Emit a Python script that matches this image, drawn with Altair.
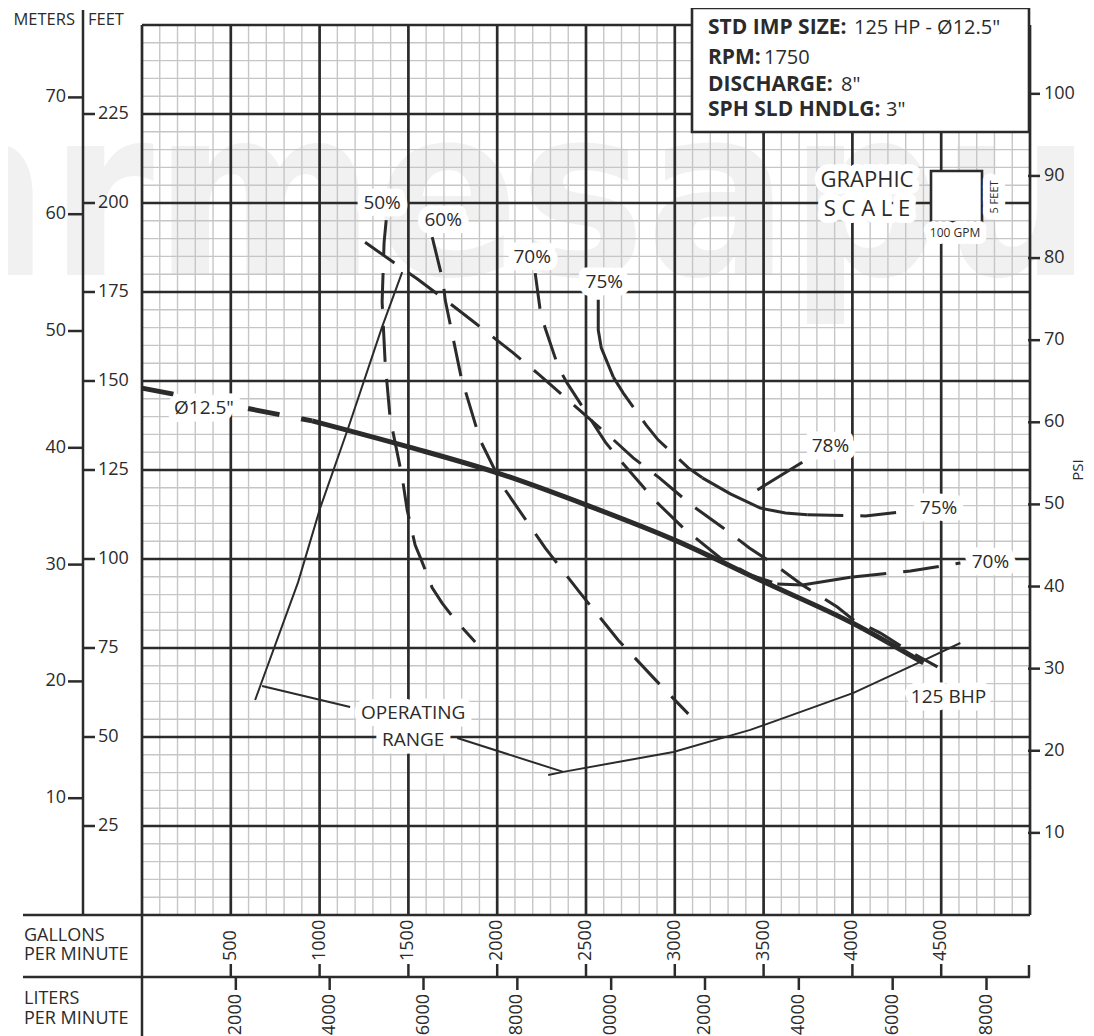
import altair as alt
import pandas as pd

FONT = "Open Sans"
INK = "#2b2b2b"
MINOR = "#c6c6c6"

# ---------------- axis tick values ----------------
GPM_TICKS = [500, 1000, 1500, 2000, 2500, 3000, 3500, 4000, 4500]
LPM_TICKS = [2000, 4000, 6000, 8000, 10000, 12000, 14000, 16000, 18000]
FEET_TICKS = [25, 50, 75, 100, 125, 150, 175, 200, 225]
METER_TICKS = [10, 20, 30, 40, 50, 60, 70]
PSI_TICKS = [10, 20, 30, 40, 50, 60, 70, 80, 90, 100]
MINOR_GPM = list(range(0, 5001, 100))
MINOR_FT = list(range(0, 251, 5))
MAJOR_GPM = list(range(0, 5001, 500))
MAJOR_FT = list(range(0, 251, 25))

GPM_PER_LPM = 1 / 3.78541
FT_PER_M = 3.28084
FT_PER_PSI = 2.30666

# ---------------- curves (GPM, feet) ----------------
HEAD_DASH_GPM = [0, 500, 958]
HEAD_DASH_FT = [148.0, 143.2, 138.8]
HEAD_GPM = [958, 1500, 2000, 2500, 3000, 3500, 4000, 4400]
HEAD_FT = [138.8, 131.5, 124.2, 115.2, 105.3, 93.6, 82.0, 70.8]

EFF50_GPM = [1375, 1363, 1352, 1369, 1397, 1465, 1493, 1538, 1577, 1634, 1690, 1763, 1876]
EFF50_FT = [195.2, 188.8, 172.2, 155.3, 139.6, 123.0, 113.8, 103.9, 99.2, 91.9, 87.6, 82.9, 76.7]

EFF60_GPM = [1634, 1696, 1707, 1797, 1904, 2034, 2270, 2468, 2682, 2907, 3076]
EFF60_FT = [190.4, 177.8, 172.8, 151.1, 133.4, 120.2, 103.1, 90.4, 77.2, 65.2, 56.5]

DIAG_GPM = [1256, 1414, 1549, 1707, 1876, 2085, 2231, 2355, 2496, 2637, 2766, 2913, 3093,
            3273, 3420, 3566, 3718, 3915, 4006, 4158, 4310, 4479]
DIAG_FT = [189.0, 183.4, 178.7, 172.8, 166.3, 158.1, 152.0, 146.6, 140.4, 134.3, 128.4, 122.8,
           115.2, 108.7, 103.1, 98.3, 92.7, 86.5, 82.9, 79.2, 74.4, 69.7]

EFF70A_GPM = [2214, 2242, 2270, 2344, 2394, 2608, 2676, 2823, 2885, 3048, 3132, 3256, 3425, 3577]
EFF70A_FT = [180.3, 169.9, 164.9, 153.9, 149.4, 132.9, 128.7, 120.2, 116.6, 108.7, 105.3, 100.3, 95.5, 93.0]
EFF70B_GPM = [3577, 3718, 3989]
EFF70B_FT = [93.0, 92.7, 94.9]
EFF70C_GPM = [3989, 4327, 4608]
EFF70C_FT = [94.9, 96.6, 98.9]

EFF75A_GPM = [2569, 2569, 2586, 2654]
EFF75A_FT = [172.8, 164.3, 159.3, 151.1]
EFF75B_GPM = [2654, 2710, 2839, 2907, 3076, 3155]
EFF75B_FT = [151.1, 146.6, 137.6, 133.4, 125.6, 122.8]
EFF75C_GPM = [3155, 3313, 3482, 3623, 3746]
EFF75C_FT = [122.8, 118.3, 114.3, 112.9, 112.4]
EFF75D_GPM = [3746, 4073, 4327]
EFF75D_FT = [112.4, 112.1, 113.5]

EFF78_GPM = [3465, 3718]
EFF78_FT = [119.4, 127.2]

OPER_LEFT_GPM = [1465, 1352, 1161, 1003, 879, 637]
OPER_LEFT_FT = [180.6, 165.2, 136.8, 114.3, 93.5, 60.4]
OPER_LEAD1_GPM = [676, 1172]
OPER_LEAD1_FT = [64.3, 58.4]
OPER_LEAD2_GPM = [1775, 2372]
OPER_LEAD2_FT = [49.7, 40.2]
OPER_LOW_GPM = [2287, 2372, 2992, 3425, 3611, 4006, 4383, 4608]
OPER_LOW_FT = [39.3, 40.2, 45.8, 52.0, 55.3, 62.4, 71.1, 76.4]

LABEL_TEXT = ["50%", "60%", "70%", "75%", 'Ø12.5"', "78%", "75%", "70%", "125 BHP", "OPERATING", "RANGE"]
LABEL_GPM = [1352, 1696, 2197, 2603, 349, 3876, 4485, 4777, 4541, 1527, 1527]
LABEL_FT = [200.0, 195.2, 184.8, 177.8, 142.4, 131.7, 114.3, 99.2, 61.2, 56.7, 49.2]

INFO_LABELS = ["STD IMP SIZE:", "RPM:", "DISCHARGE:", "SPH SLD HNDLG:"]
INFO_VALUES = ['125 HP - Ø12.5"', "1750", '8"', '3"']

# ---------------- build tables ----------------
curves = [
    ("head_dash", "headdash", HEAD_DASH_GPM, HEAD_DASH_FT),
    ("head", "head", HEAD_GPM, HEAD_FT),
    ("e50", "dash", EFF50_GPM, EFF50_FT),
    ("e60", "dash", EFF60_GPM, EFF60_FT),
    ("diag", "dash", DIAG_GPM, DIAG_FT),
    ("e70a", "dash", EFF70A_GPM, EFF70A_FT),
    ("e70b", "solid", EFF70B_GPM, EFF70B_FT),
    ("e70c", "dash", EFF70C_GPM, EFF70C_FT),
    ("e75a", "solid", EFF75A_GPM, EFF75A_FT),
    ("e75b", "dash", EFF75B_GPM, EFF75B_FT),
    ("e75c", "solid", EFF75C_GPM, EFF75C_FT),
    ("e75d", "dash", EFF75D_GPM, EFF75D_FT),
    ("e78", "solid", EFF78_GPM, EFF78_FT),
    ("opl", "thin", OPER_LEFT_GPM, OPER_LEFT_FT),
    ("op1", "thin", OPER_LEAD1_GPM, OPER_LEAD1_FT),
    ("op2", "thin", OPER_LEAD2_GPM, OPER_LEAD2_FT),
    ("opb", "thin", OPER_LOW_GPM, OPER_LOW_FT),
]
rows = []
for name, style, gx, fy in curves:
    for i, (g, f) in enumerate(zip(gx, fy)):
        rows.append({"curve": name, "style": style, "seq": i, "gpm": g, "ft": f})
lines = pd.DataFrame(rows)

xs = alt.Scale(domain=[0, 5000], nice=False, zero=False)
ys = alt.Scale(domain=[0, 250], nice=False, zero=False)
X = alt.X("gpm:Q", scale=xs, axis=None)
Y = alt.Y("ft:Q", scale=ys, axis=None)
one = pd.DataFrame({"k": [0]})


def line_layer(style, interp="linear", **kw):
    d = lines[lines["style"] == style]
    return alt.Chart(d).mark_line(color=INK, interpolate=interp, strokeCap="butt", **kw).encode(
        x=X, y=Y, detail="curve:N", order="seq:Q")


def prule(x=None, x2=None, y=None, y2=None, w=2.5):
    enc = {}
    if x is not None:
        enc["x"] = alt.value(x)
    if x2 is not None:
        enc["x2"] = alt.value(x2)
    if y is not None:
        enc["y"] = alt.value(y)
    if y2 is not None:
        enc["y2"] = alt.value(y2)
    return alt.Chart(one).mark_rule(color=INK, strokeWidth=w).encode(**enc)


def ptext(txt, x, y, size=18, weight="normal", align="center", baseline="middle", angle=0, halo=False):
    layers = []
    if halo:
        layers.append(alt.Chart(one).mark_text(text=txt, font=FONT, fontSize=size, fontWeight=weight,
                                               align=align, baseline=baseline, angle=angle,
                                               fill="white", stroke="white", strokeWidth=14,
                                               strokeJoin="round").encode(x=alt.value(x), y=alt.value(y)))
    layers.append(alt.Chart(one).mark_text(text=txt, font=FONT, fontSize=size, fontWeight=weight,
                                           align=align, baseline=baseline, angle=angle,
                                           color=INK).encode(x=alt.value(x), y=alt.value(y)))
    return layers


layers = []

# watermark
layers.append(alt.Chart(one).mark_text(text="nrmesapump",
                                       font="DejaVu Sans Condensed, DejaVu Sans",
                                       fontSize=236, fontWeight="bold",
                                       align="left", baseline="alphabetic", color="#f1f1f1")
              .encode(x=alt.value(-244), y=alt.value(250)))

# grid
layers.append(alt.Chart(pd.DataFrame({"gpm": MINOR_GPM})).mark_rule(color=MINOR, strokeWidth=1.4).encode(x=X))
layers.append(alt.Chart(pd.DataFrame({"ft": MINOR_FT})).mark_rule(color=MINOR, strokeWidth=1.4).encode(y=Y))
layers.append(alt.Chart(pd.DataFrame({"gpm": MAJOR_GPM})).mark_rule(color=INK, strokeWidth=2.7).encode(x=X))
layers.append(alt.Chart(pd.DataFrame({"ft": MAJOR_FT})).mark_rule(color=INK, strokeWidth=2.7).encode(y=Y))

# curves
layers.append(line_layer("thin", strokeWidth=2.0))
layers.append(line_layer("dash", strokeWidth=3.0, strokeDash=[36, 17]))
layers.append(line_layer("solid", strokeWidth=3.0))
layers.append(line_layer("headdash", strokeWidth=5.0, strokeDash=[32, 22]))
layers.append(line_layer("head", interp="monotone", strokeWidth=5.0))

# curve labels with white halo
lab = pd.DataFrame({"text": LABEL_TEXT, "gpm": LABEL_GPM, "ft": LABEL_FT})
layers.append(alt.Chart(lab).mark_text(font=FONT, fontSize=19, fill="white", stroke="white",
                                       strokeWidth=15, strokeJoin="round")
              .encode(x=X, y=Y, text="text:N"))
layers.append(alt.Chart(lab).mark_text(font=FONT, fontSize=19, color=INK).encode(x=X, y=Y, text="text:N"))

# info box
layers.append(alt.Chart(one).mark_rect(fill="white", stroke=INK, strokeWidth=2.6)
              .encode(x=alt.value(550), x2=alt.value(887), y=alt.value(-17), y2=alt.value(107)))
info_y = [3, 33, 60, 85]
info_val_x = [712, 622, 699, 744]
for lbl, val, yy, vx in zip(INFO_LABELS, INFO_VALUES, info_y, info_val_x):
    layers += ptext(lbl, 566, yy, size=21, weight="bold", align="left")
    layers += ptext(val, vx, yy, size=20, align="left")

# graphic scale
layers += ptext("GRAPHIC", 725, 155, size=22, halo=True)
layers += ptext("S C A L E", 725, 184, size=22, halo=True)
layers.append(alt.Chart(one).mark_rect(fill="white", stroke=INK, strokeWidth=2.6)
              .encode(x=alt.value(789), x2=alt.value(840), y=alt.value(146), y2=alt.value(197)))
layers += ptext("5 FEET", 853, 172, size=11, angle=270, halo=True)
layers += ptext("100 GPM", 813, 208, size=12, halo=True)

# ---------------- left axes (meters | feet) ----------------
layers.append(prule(x=-59, y=-15, y2=890))
ft_df = pd.DataFrame({"ft": FEET_TICKS, "lab": [str(v) for v in FEET_TICKS]})
layers.append(alt.Chart(ft_df).mark_rule(color=INK, strokeWidth=2.5)
              .encode(y=Y, x=alt.value(-59), x2=alt.value(-47)))
layers.append(alt.Chart(ft_df).mark_text(font=FONT, fontSize=18, align="left", baseline="middle", color=INK)
              .encode(y=Y, x=alt.value(-44), text="lab:N"))
m_df = pd.DataFrame({"m": METER_TICKS})
m_df["ft"] = m_df["m"] * FT_PER_M
m_df["lab"] = m_df["m"].astype(str)
layers.append(alt.Chart(m_df).mark_rule(color=INK, strokeWidth=2.5)
              .encode(y=Y, x=alt.value(-74), x2=alt.value(-59)))
layers.append(alt.Chart(m_df).mark_text(font=FONT, fontSize=18, align="right", baseline="middle", color=INK)
              .encode(y=Y, x=alt.value(-76), text="lab:N"))
layers += ptext("METERS", -67, -5, size=16.5, align="right")
layers += ptext("FEET", -54, -5, size=16.5, align="left")

# ---------------- right axis (psi) ----------------
p_df = pd.DataFrame({"psi": PSI_TICKS})
p_df["ft"] = p_df["psi"] * FT_PER_PSI
p_df["lab"] = p_df["psi"].astype(str)
layers.append(alt.Chart(p_df).mark_rule(color=INK, strokeWidth=2.5)
              .encode(y=Y, x=alt.value(886), x2=alt.value(898)))
layers.append(alt.Chart(p_df).mark_text(font=FONT, fontSize=18, align="left", baseline="middle", color=INK)
              .encode(y=Y, x=alt.value(902), text="lab:N"))
layers += ptext("PSI", 936, 445, size=15, angle=270)

# ---------------- bottom axes (gpm / lpm) ----------------
layers.append(prule(x=-119, x2=0, y=890))
layers.append(prule(x=-119, x2=888, y=952))
layers.append(prule(x=0, y=890, y2=1030))
layers.append(prule(x=887, y=940, y2=952))
g_df = pd.DataFrame({"gpm": GPM_TICKS, "lab": [str(v) for v in GPM_TICKS]})
layers.append(alt.Chart(g_df).mark_rule(color=INK, strokeWidth=2.5)
              .encode(x=X, y=alt.value(939), y2=alt.value(952)))
layers.append(alt.Chart(g_df).mark_text(font=FONT, fontSize=18, angle=270, align="left", baseline="middle",
                                        color=INK).encode(x=X, y=alt.value(936), text="lab:N"))
l_df = pd.DataFrame({"lpm": LPM_TICKS})
l_df["gpm"] = l_df["lpm"] * GPM_PER_LPM
l_df["lab"] = l_df["lpm"].astype(str)
layers.append(alt.Chart(l_df).mark_rule(color=INK, strokeWidth=2.5)
              .encode(x=X, y=alt.value(952), y2=alt.value(965)))
layers.append(alt.Chart(l_df).mark_text(font=FONT, fontSize=18, angle=270, align="right", baseline="middle",
                                        color=INK).encode(x=X, y=alt.value(969), text="lab:N"))
layers += ptext("GALLONS", -118, 911, size=18, align="left")
layers += ptext("PER MINUTE", -118, 930, size=18, align="left")
layers += ptext("LITERS", -118, 974, size=18, align="left")
layers += ptext("PER MINUTE", -118, 994, size=18, align="left")

chart = alt.layer(*layers).properties(
    width=888, height=890,
    padding={"left": 134, "top": 17, "right": 56, "bottom": 121},
    autosize=alt.AutoSizeParams(type="none"),
    background="white",
).configure_view(stroke=None)

chart.save("out.html", embed_options={"renderer": "svg", "actions": False})
